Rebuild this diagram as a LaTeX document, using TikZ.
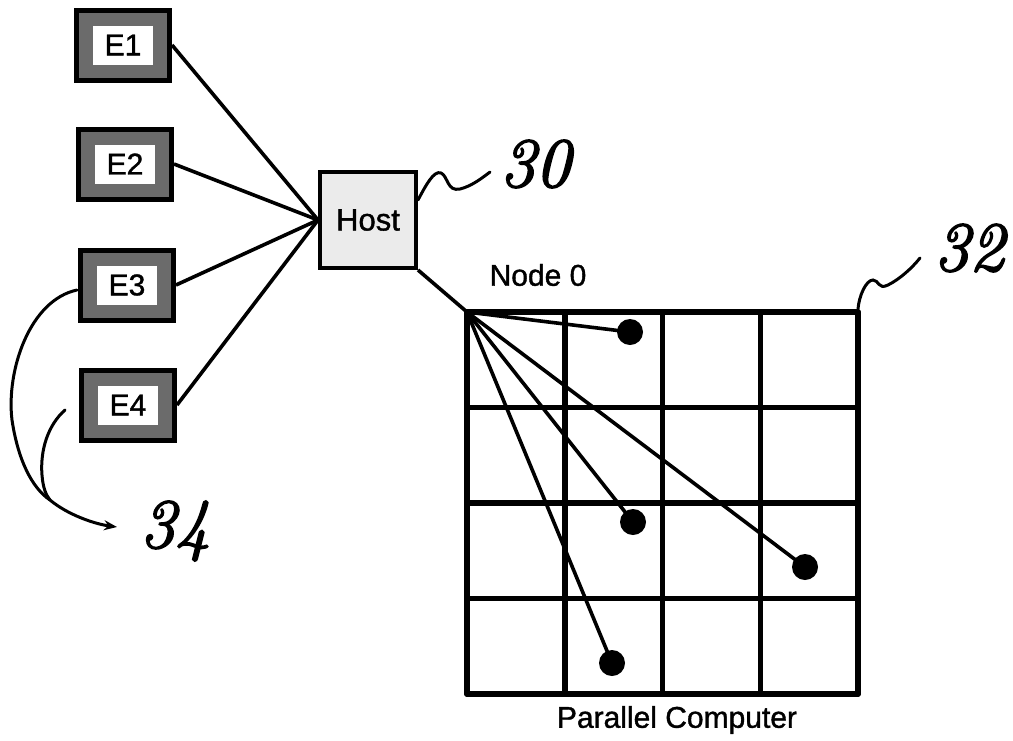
\documentclass[tikz,border=0pt]{standalone}
\usepackage{fontspec}
\setmainfont[FakeBold=1.2,AutoFakeBold=1.2]{Liberation Sans}
\newfontfamily\handfont[FakeBold=2.5]{Latin Modern Roman}
\usetikzlibrary{arrows.meta}
\tikzset{
  ebox/.style={draw=black, line width=5pt, fill=black!58, minimum width=93pt, minimum height=70pt, inner sep=0pt},
  einner/.style={fill=white, minimum width=60pt, minimum height=39pt, inner sep=0pt, font=\fontsize{30}{34}\selectfont},
  hostbox/.style={draw=black, line width=4pt, fill=black!8, minimum width=96pt, minimum height=96pt, inner sep=0pt, font=\fontsize{31}{34}\selectfont},
  link/.style={line width=3.6pt},
  gridline/.style={line width=5.5pt, line cap=round},
  spoke/.style={line width=3.6pt},
  dotnode/.style={circle, fill=black, minimum size=26pt, inner sep=0pt},
  lead/.style={line width=3pt, line cap=round},
  hand/.style={font=\handfont\itshape\fontsize{70}{72}\selectfont, inner sep=0pt},
  lbl/.style={font=\fontsize{30}{34}\selectfont, inner sep=0pt}
}
\begin{document}
\begin{tikzpicture}[x=1pt,y=-1pt]
\useasboundingbox (0,0) rectangle (1013,740);
% E boxes
\foreach \n/\x/\y in {1/123/45, 2/125/164, 3/127/285, 4/128/405}{
  \node[ebox] (E\n) at (\x,\y) {};
  \node[einner] (E\n t) at (\x,\y) {E\n};
}
% Host
\node[hostbox] (Host) at (368,220) {Host};
% connectors E -> Host
\foreach \n in {1,2,3,4}{
  \draw[link] (E\n.east) -- (Host.west);
}
% grid
\coordinate (G00) at (467,312);
\coordinate (G44) at (858,694);
\foreach \i in {0,1,2,3,4}{
  \draw[gridline] (467+97.75*\i,312) -- (467+97.75*\i,694);
  \draw[gridline] (467,312+95.5*\i) -- (858,312+95.5*\i);
}
\draw[link] (Host.south east) -- (G00);
% dots
\node[dotnode] (d1) at (630,332) {};
\node[dotnode] (d2) at (633,522) {};
\node[dotnode] (d3) at (805,567) {};
\node[dotnode] (d4) at (612,663) {};
\foreach \d in {d1,d2,d3,d4}{
  \draw[spoke] (G00) -- (\d.center);
}
% labels
\node[lbl] (n0) at (538,275) {Node 0};
\node[lbl] (pc) at (677,720) {Parallel Computer};
% reference numerals
\node[hand, anchor=west] (r30) at (500,164) {30};
\node[hand, anchor=west] (r32) at (934,248) {32};
\node[hand, anchor=west] (r34) at (140,531) {34};
% leaders
\coordinate (h30) at (418,200);
\draw[lead] (h30) .. controls (426,185) and (434,170) .. (441,173)
  .. controls (448,176) and (447,192) .. (460,189)
  .. controls (472,186) and (482,178) .. (490,172);
\coordinate (g32) at (858,309);
\draw[lead] (g32) .. controls (859,296) and (866,280) .. (873,280)
  .. controls (879,280) and (878,290) .. (888,285)
  .. controls (900,279) and (912,268) .. (920,258);
\coordinate (e3l) at (77,290);
\coordinate (e4l) at (65,410);
\coordinate (j34) at (50,500);
\coordinate (t34) at (117,527);
\draw[lead, -{Stealth[length=13pt,width=10pt]}] (e3l) .. controls (30,300) and (6,370) .. (12,420)
  .. controls (18,460) and (32,488) .. (j34)
  .. controls (68,515) and (95,524) .. (t34);
\draw[lead] (e4l) .. controls (48,425) and (40,450) .. (42,475)
  .. controls (43,488) and (46,495) .. (j34);
\end{tikzpicture}
\end{document}
